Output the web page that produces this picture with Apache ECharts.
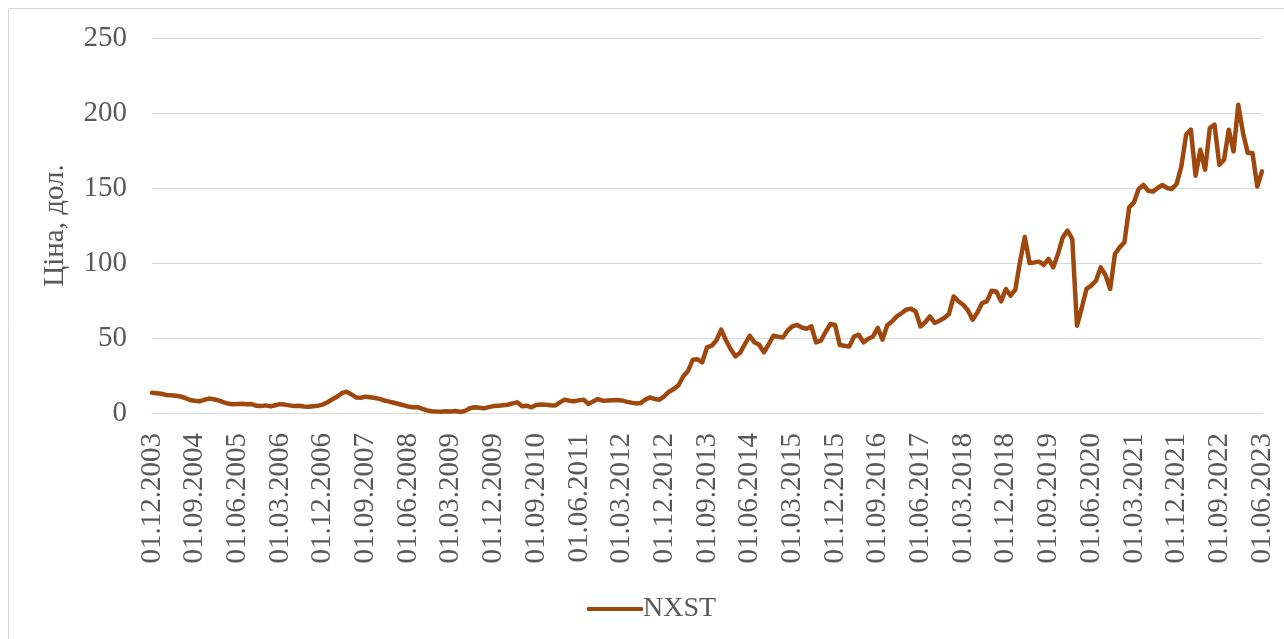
<!DOCTYPE html>
<html lang="uk">

<head>
    <meta charset="UTF-8">
    <script src="https://cdn.jsdelivr.net/npm/echarts@6/dist/echarts.min.js"></script>
    <style>
        html, body {
            margin: 0;
            padding: 0;
            background: #fff;
        }

        #chart {
            width: 1284px;
            height: 639px;
        }
    </style>
    <title>NXST</title>
</head>

<body>
    <div id="chart"></div>
    <script type="text/javascript">
        // monthly dates, 01.12.2003 .. 01.06.2023
        var startYear = 2003, startMonth = 12, monthCount = 235;
        var dates = [];
        for (var k = 0; k < monthCount; k++) {
            var m = (startMonth - 1 + k) % 12 + 1;
            var y = startYear + Math.floor((startMonth - 1 + k) / 12);
            dates.push('01.' + (m < 10 ? '0' + m : m) + '.' + y);
        }

        // NXST price, USD
        var prices2003 = [13.5, 13.2, 12.8, 12, 11.8, 11.5, 11, 10, 8.7, 8.2, 7.8, 8.8, 9.6, 9.2, 8.4, 7.2, 6.3, 5.8, 6, 6.2,
            5.9, 6, 4.8, 4.6, 5.1, 4.4, 5.2, 5.9, 5.6, 5.1, 4.6, 4.8, 4.3, 4.1, 4.5, 4.9, 5.6, 7.2, 9.1, 10.8];
        var prices2007 = [13.2, 14.2, 12.5, 10.4, 10.2, 10.9, 10.5, 10, 9.4, 8.3, 7.6, 6.8, 6, 5.2, 4.3, 3.8, 3.9, 2.7, 1.7, 1.2,
            1, 0.9, 1.1, 1, 1.3, 0.7, 1.4, 3.2, 3.8, 3.5, 3.1, 3.9, 4.6, 4.9, 5.2, 5.5, 6.4, 7.1, 4.5, 4.9];
        var prices2010 = [3.8, 5.3, 5.6, 5.5, 5.2, 5, 7.1, 8.9, 8.2, 7.8, 8.4, 8.9, 6, 7.6, 9.3, 8.2, 8.3, 8.5, 8.7, 8.4,
            7.6, 6.9, 6.4, 6.6, 8.9, 10.4, 9.3, 8.9, 11.2, 14.2, 16, 18.5, 24.5, 28, 35.5, 35.8, 33.8, 43.8, 44.9, 48.5];
        var prices2013 = [55.6, 48.5, 42.5, 37.8, 40.2, 46, 51.5, 47.1, 45.5, 40.4, 45.8, 51.5, 50.8, 50.4, 55, 57.8, 58.7, 57, 56.2, 57.8,
            47.1, 48.2, 54, 59.3, 58.7, 45.3, 44.8, 44.4, 51, 52.2, 47.1, 49.5, 51, 56.7, 48.9, 58.5, 61, 64.4, 66.5, 68.9];
        var prices2017 = [69.5, 67.7, 57.7, 60.5, 64.4, 60, 61.5, 63.3, 66, 77.7, 74.5, 72.2, 68.5, 62.2, 67, 73.3, 74.4, 81.5, 81, 74.4,
            82.7, 78.2, 82.2, 101.1, 117.3, 100, 100.4, 100.9, 98.7, 102.7, 97.1, 106, 117.1, 121.6, 116, 58.2, 70, 82.7, 84.9, 88.2];
        var prices2020 = [97.1, 92, 82.7, 106, 110.4, 113.8, 137.1, 140.4, 149.3, 152, 148.2, 147.6, 150, 152, 150, 149.3, 152.7, 164.4, 185.5, 188.9,
            158.2, 175.5, 162.2, 190, 192.2, 165.5, 168.9, 188.9, 174.4, 205.5, 186.7, 173.3, 173.3, 151, 161.1];
        var prices = prices2003.concat(prices2007, prices2010, prices2013, prices2017, prices2020);

        var yTicks = [0, 50, 100, 150, 200, 250];

        var textColor = '#595959';
        var font = '"Liberation Serif", "Times New Roman", serif';

        var chart = echarts.init(document.getElementById('chart'));
        var option = {
            animation: false,
            backgroundColor: '#fff',
            textStyle: { fontFamily: font },
            graphic: [{
                type: 'rect',
                shape: { x: 8.5, y: 8.5, width: 1290, height: 640 },
                style: { fill: 'none', stroke: '#d9d9d9', lineWidth: 1 },
                silent: true
            }],
            grid: { left: 152, right: 22, top: 38, bottom: 226 },
            legend: {
                data: ['NXST'],
                left: 582,
                top: 590,
                itemWidth: 56,
                itemHeight: 4,
                itemGap: 10,
                icon: 'roundRect',
                textStyle: { fontFamily: font, fontSize: 28, color: textColor, padding: [0, 0, 0, -5] }
            },
            xAxis: {
                type: 'category',
                data: dates,
                boundaryGap: false,
                axisLine: { lineStyle: { color: '#d9d9d9', width: 1 } },
                axisTick: { show: false },
                axisLabel: {
                    interval: 8,
                    rotate: 90,
                    margin: 20,
                    fontFamily: font,
                    fontSize: 29,
                    color: textColor
                },
                splitLine: { show: false }
            },
            yAxis: {
                type: 'value',
                min: yTicks[0],
                max: yTicks[yTicks.length - 1],
                interval: 50,
                name: 'Ціна, дол.',
                nameLocation: 'middle',
                nameGap: 82,
                nameRotate: 90,
                nameTextStyle: { fontFamily: font, fontSize: 29, color: textColor },
                axisLine: { show: false },
                axisTick: { show: false },
                axisLabel: { margin: 25, fontFamily: font, fontSize: 29, color: textColor },
                splitLine: { lineStyle: { color: '#d9d9d9', width: 1 } }
            },
            series: [{
                name: 'NXST',
                type: 'line',
                data: prices,
                showSymbol: false,
                symbol: 'none',
                lineStyle: { color: '#9e480e', width: 4.5, join: 'round', cap: 'round' },
                itemStyle: { color: '#9e480e' }
            }]
        };
        chart.setOption(option);
    </script>
</body>

</html>
